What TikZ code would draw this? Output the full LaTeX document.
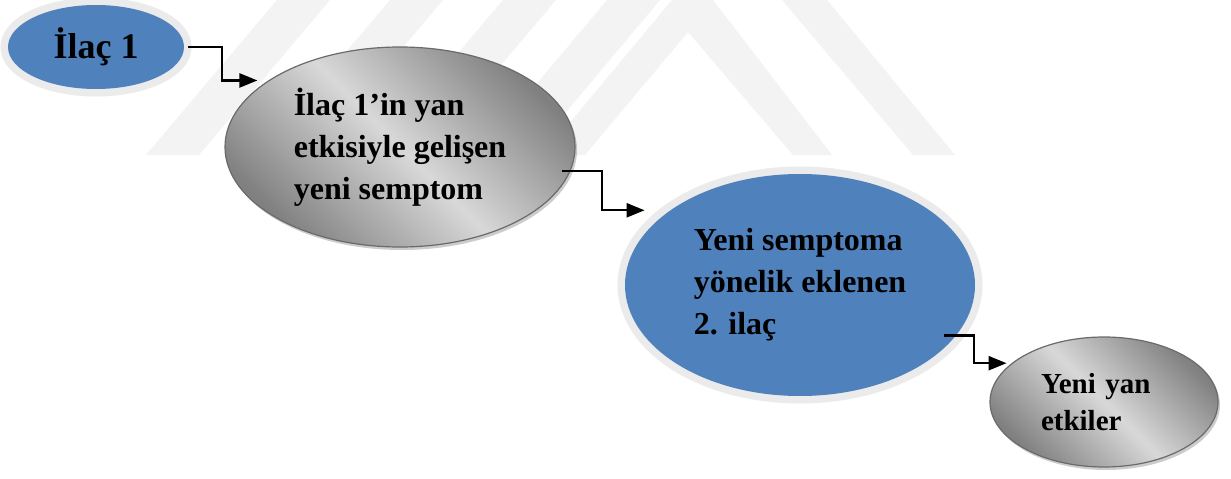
\documentclass[tikz,border=0pt]{standalone}
\usepackage{fontspec}
\setmainfont{Liberation Serif}
\usetikzlibrary{arrows.meta,shadows,shapes.geometric}
\definecolor{nodeblue}{HTML}{4F81BD}
\definecolor{glowgray}{HTML}{EBEBEB}
\definecolor{wmgray}{HTML}{F3F3F3}
\definecolor{rimgray}{HTML}{6A6A6A}
\definecolor{shadedark}{HTML}{808080}
\definecolor{shadelight}{HTML}{D8D8D8}
\begin{document}
\begin{tikzpicture}[x=1pt,y=-1pt,
  wm/.style={fill=wmgray, draw=none},
  bluenode/.style={ellipse, fill=nodeblue, preaction={draw=glowgray, line width=15pt},
    inner sep=0pt, outer sep=0pt, align=left},
  graynode/.style={ellipse, draw=rimgray, line width=1.2pt,
    top color=shadedark, bottom color=shadedark, middle color=shadelight, shading angle=-45,
    drop shadow={shadow xshift=2pt, shadow yshift=-3pt, opacity=0.2, fill=black},
    inner sep=0pt, outer sep=0pt, align=left},
  conn/.style={line width=2.4pt, -{Triangle[length=18pt,width=14pt]}}]
\fill[white] (0,0) rectangle (1231,479);
\useasboundingbox (0,0) rectangle (1231,479);
% watermark
\fill[wm] (277,0) -- (330,0) -- (199,155) -- (146,155) -- cycle;
\fill[wm] (390,0) -- (443,0) -- (312,155) -- (259,155) -- cycle;
\fill[wm] (503,0) -- (556,0) -- (425,155) -- (372,155) -- cycle;
\fill[wm] (607,0) -- (660,0) -- (530,155) -- (477,155) -- cycle;
\fill[wm] (543,155) -- (672,0) -- (713,0) -- (832,155) -- (793,155) -- (688,32) -- (585,155) -- cycle;
\fill[wm] (782,0) -- (827,0) -- (955,155) -- (913,155) -- cycle;
% nodes
\node[bluenode, minimum width=176pt, minimum height=84pt,
  font=\fontsize{36}{40}\selectfont\bfseries] (n1) at (96,47) {İlaç 1};
\node[graynode, minimum width=350pt, minimum height=200pt,
  font=\fontsize{32}{42}\selectfont\bfseries] (n2) at (400,147)
  {İlaç 1’in yan\\etkisiyle gelişen\\yeni semptom};
\node[bluenode, minimum width=350pt, minimum height=222pt,
  font=\fontsize{32}{42}\selectfont\bfseries] (n3) at (800,285)
  {Yeni semptoma\\yönelik eklenen\\2. ilaç};
\node[graynode, minimum width=228pt, minimum height=130pt, text width=126pt,
  font=\fontsize{29}{37}\selectfont\bfseries] (n4) at (1104,402)
  {Yeni yan\\etkiler};
% connectors
\draw[conn, shorten >=12pt] ([xshift=4pt]n1.east) -- ++(34,0) |- (n2.153);
\draw[conn, shorten >=26pt] ([xshift=-8pt]n2.-8) -- ++(40,0) |- (n3.150);
\draw[conn, shorten >=6pt] ([xshift=-12pt]n3.-18.5) -- ++(30,0) |- (n4.157);
\end{tikzpicture}
\end{document}
